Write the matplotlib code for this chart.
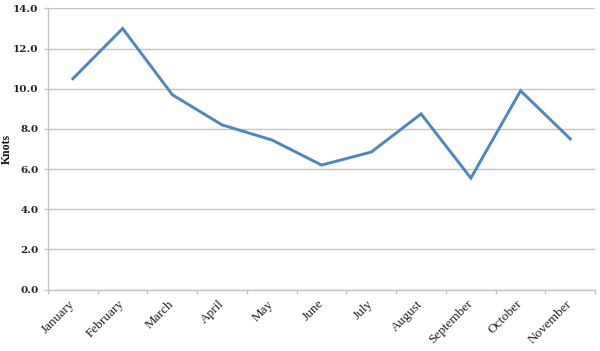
import numpy as np
import matplotlib
matplotlib.use('Agg')
import matplotlib.pyplot as plt

# data --------------------------------------------------------------------------
months = ['January', 'February', 'March', 'April', 'May', 'June', 'July',
          'August', 'September', 'October', 'November']
knots = [10.5, 13.0, 9.7, 8.2, 7.45, 6.2, 6.85, 8.75, 5.55, 9.9, 7.5]
yticks = np.arange(0, 14.1, 2.0)

grid_c = '#c4c4c4'
line_c = '#4f86c0'

fig = plt.figure(figsize=(6.0, 3.51), dpi=100)
ax = fig.add_axes([0.08, 0.175, 0.912, 0.801])

x = np.arange(len(months))
ax.plot(x, knots, color=line_c, lw=2.1, solid_joinstyle='miter', zorder=3)

ax.set_xlim(-0.5, len(months) - 0.5)
ax.set_ylim(0, 14)
ax.set_yticks(yticks)
ax.set_yticklabels(['%.1f' % v for v in yticks], fontfamily='DejaVu Serif',
                   fontweight='bold', fontsize=7.5, color='#222222')
ax.yaxis.grid(True, color=grid_c, lw=1.0)
ax.set_axisbelow(True)

ax.set_xticks(x)
ax.set_xticklabels(months, rotation=45, ha='right', va='center',
                   rotation_mode='anchor',
                   fontfamily='Liberation Serif', fontsize=9.5, color='#222222')
ax.set_xticks(np.arange(-0.5, len(months)), minor=True)
ax.tick_params(axis='x', which='major', length=0, pad=9)
ax.tick_params(axis='x', which='minor', length=3, color=grid_c, width=1)
ax.tick_params(axis='y', length=3, color=grid_c, width=1, pad=4)

for s in ('top', 'right'):
    ax.spines[s].set_visible(False)
for s in ('left', 'bottom'):
    ax.spines[s].set_color(grid_c)
    ax.spines[s].set_linewidth(1.0)

fig.text(7 / 600, 1 - 149 / 351, 'Knots', rotation=90, ha='center',
         va='center', fontfamily='Liberation Serif', fontweight='bold',
         fontsize=8.5, color='#111111')

fig.savefig('out.png', dpi=100)
